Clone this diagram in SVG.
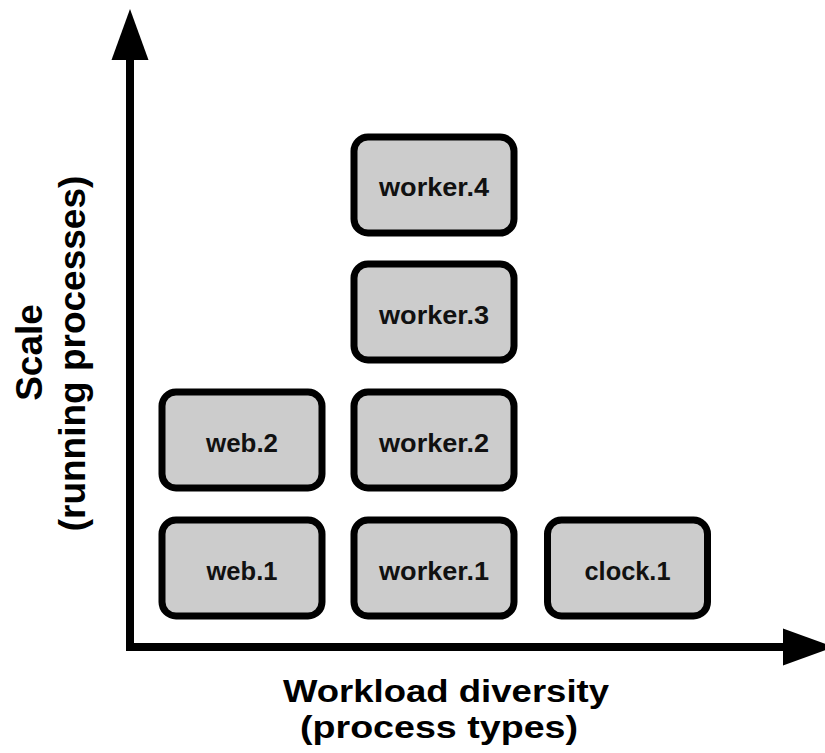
<svg xmlns="http://www.w3.org/2000/svg" width="825" height="753" viewBox="0 0 825 753">
  <style>
    .box { fill: #cccccc; stroke: #000; stroke-width: 7; }
    .lbl { font-family: "Liberation Sans", Arial, sans-serif; font-weight: bold; font-size: 25px; fill: #111; text-anchor: middle; }
    .axis-lbl { font-family: "Liberation Sans", Arial, sans-serif; font-weight: bold; font-size: 37px; fill: #000; text-anchor: middle; }
    .x-lbl { font-size: 32px; }
    .axis { fill: none; stroke: #000; stroke-width: 8; stroke-linejoin: miter; }
  </style>
  <defs>
    <marker id="arrow" markerUnits="userSpaceOnUse" markerWidth="52" markerHeight="38" refX="0" refY="18.5" orient="auto-start-reverse" overflow="visible">
      <path d="M0,0 L51,18.5 L0,37 Z" fill="#000"/>
    </marker>
  </defs>
  <rect width="825" height="753" fill="#fff"/>

  <g id="connectors">
    <path class="axis" d="M130,60 V647 H783" marker-start="url(#arrow)" marker-end="url(#arrow)"/>
  </g>

  <g id="web.1">
    <rect class="box" x="162" y="520" width="160" height="96" rx="14"/>
    <text class="lbl" x="242" y="580" textLength="71" lengthAdjust="spacingAndGlyphs">web.1</text>
  </g>
  <g id="web.2">
    <rect class="box" x="162" y="392" width="160" height="96" rx="14"/>
    <text class="lbl" x="242" y="452" textLength="72" lengthAdjust="spacingAndGlyphs">web.2</text>
  </g>
  <g id="worker.1">
    <rect class="box" x="354" y="520" width="160" height="96" rx="14"/>
    <text class="lbl" x="434" y="580" textLength="110" lengthAdjust="spacingAndGlyphs">worker.1</text>
  </g>
  <g id="worker.2">
    <rect class="box" x="354" y="392" width="160" height="96" rx="14"/>
    <text class="lbl" x="434" y="452" textLength="110" lengthAdjust="spacingAndGlyphs">worker.2</text>
  </g>
  <g id="worker.3">
    <rect class="box" x="354" y="264" width="160" height="96" rx="14"/>
    <text class="lbl" x="434" y="324" textLength="110" lengthAdjust="spacingAndGlyphs">worker.3</text>
  </g>
  <g id="worker.4">
    <rect class="box" x="354" y="137" width="160" height="96" rx="14"/>
    <text class="lbl" x="434" y="196" textLength="110" lengthAdjust="spacingAndGlyphs">worker.4</text>
  </g>
  <g id="clock.1">
    <rect class="box" x="547.5" y="520" width="160" height="96" rx="14"/>
    <text class="lbl" x="627.5" y="580" textLength="86" lengthAdjust="spacingAndGlyphs">clock.1</text>
  </g>

  <g id="x-label">
    <text class="axis-lbl x-lbl" x="446" y="702" textLength="326" lengthAdjust="spacingAndGlyphs">Workload diversity</text>
    <text class="axis-lbl x-lbl" x="439" y="738" textLength="278" lengthAdjust="spacingAndGlyphs">(process types)</text>
  </g>
  <g id="y-label">
    <text class="axis-lbl" transform="translate(42,352.5) rotate(-90)">Scale</text>
    <text class="axis-lbl" transform="translate(85,353.5) rotate(-90)">(running processes)</text>
  </g>
</svg>
